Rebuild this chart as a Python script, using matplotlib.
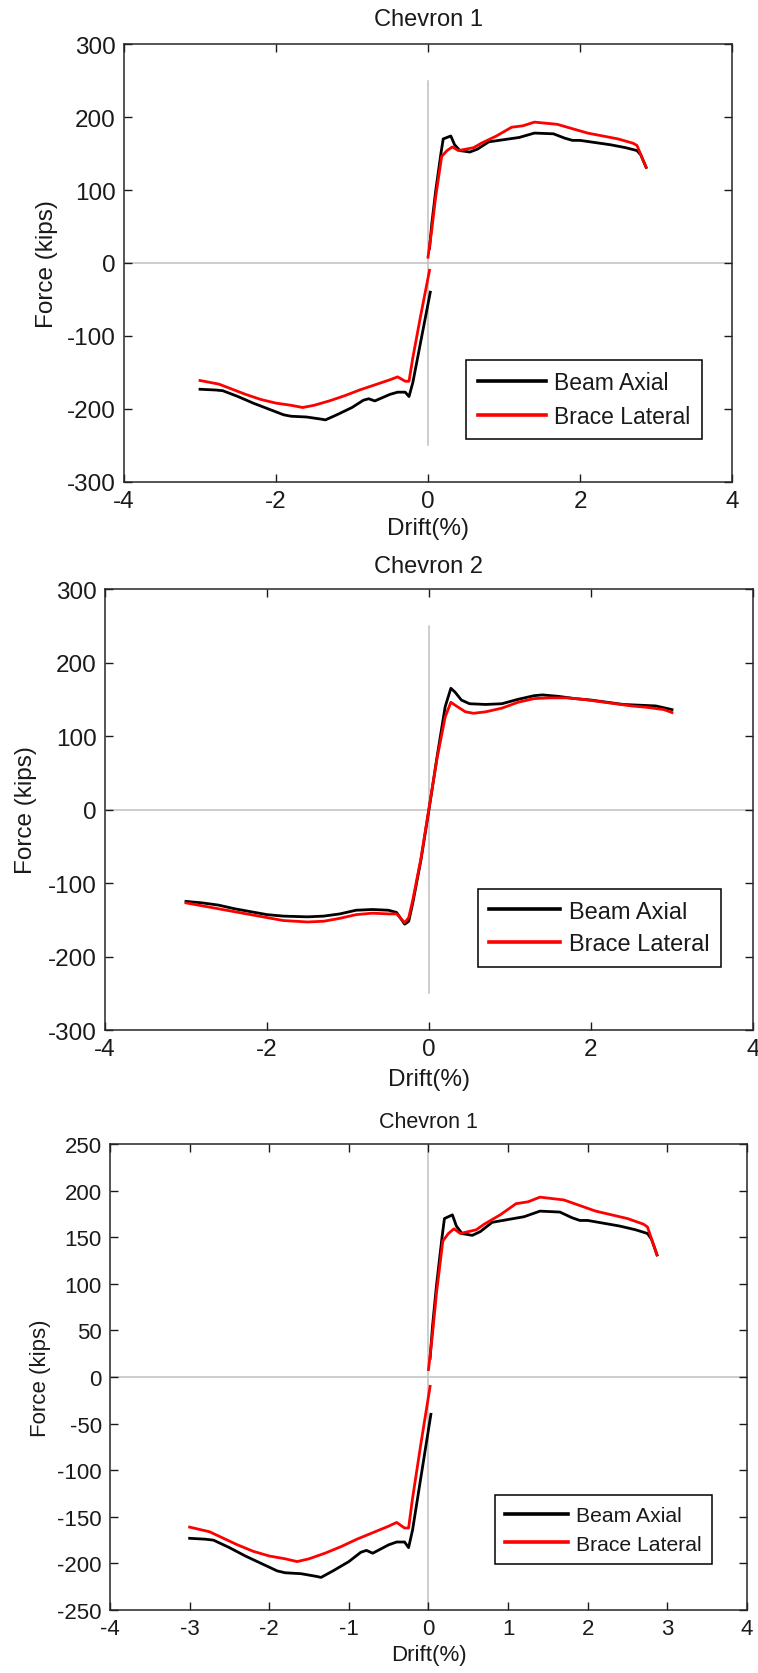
import numpy as np
import matplotlib
matplotlib.use("Agg")
import matplotlib.pyplot as plt

plt.rcParams['font.family'] = ['Liberation Sans', 'DejaVu Sans']
plt.rcParams['axes.unicode_minus'] = False

nan = np.nan

# Chevron 1: drift (%) and forces (kips); NaN marks the break in each record
c1_beam_drift = [-3.0, -2.8, -2.7, -2.5, -2.3, -2.1, -1.9, -1.8, -1.6, -1.4, -1.35, -1.2,
                 -1.0, -0.85, -0.78, -0.7, -0.5, -0.4, -0.3, -0.25, -0.2, -0.1, 0.03,
                 nan,
                 0.02, 0.05, 0.1, 0.17, 0.2, 0.3, 0.35, 0.42, 0.55, 0.65, 0.8, 1.0, 1.2,
                 1.4, 1.65, 1.8, 1.9, 2.0, 2.2, 2.4, 2.6, 2.75, 2.8, 2.87]
c1_beam_force = [-173, -174, -175, -183, -192, -200, -208, -210, -211, -214, -215, -208,
                 -198, -188, -186, -189, -180, -177, -177, -183, -164, -110, -40,
                 nan,
                 20, 54, 98, 150, 170, 174, 162, 154, 152, 156, 166, 169, 172,
                 178, 177, 171, 168, 168, 165, 162, 158, 154, 148, 131]

c1_brace_drift = [-3.0, -2.9, -2.75, -2.6, -2.4, -2.2, -2.0, -1.8, -1.65, -1.5, -1.3, -1.1,
                  -0.9, -0.7, -0.5, -0.4, -0.3, -0.25, -0.2, -0.1, 0.02,
                  nan,
                  0.0, 0.05, 0.1, 0.18, 0.25, 0.32, 0.4, 0.5, 0.6, 0.7, 0.9, 1.1, 1.25,
                  1.4, 1.5, 1.7, 1.9, 2.1, 2.3, 2.5, 2.7, 2.75, 2.87]
c1_brace_force = [-161, -163, -166, -172, -180, -187, -192, -195, -198, -195, -189, -182,
                  -174, -167, -160, -156, -162, -162, -130, -74, -10,
                  nan,
                  8, 46, 90, 146, 154, 159, 154, 156, 158, 164, 174, 186, 188,
                  193, 192, 190, 184, 178, 174, 170, 164, 161, 131]

# Chevron 2
c2_beam_drift = [-3.0, -2.8, -2.6, -2.4, -2.2, -2.0, -1.8, -1.5, -1.3, -1.1, -0.9, -0.7,
                 -0.5, -0.4, -0.3, -0.25, -0.2, -0.1, 0.0, 0.1, 0.2, 0.27, 0.32, 0.4,
                 0.5, 0.7, 0.9, 1.1, 1.3, 1.4, 1.6, 1.8, 2.0, 2.2, 2.4, 2.6, 2.8, 3.0]
c2_beam_force = [-125, -127, -130, -135, -139, -143, -145, -146, -145, -142, -137, -136,
                 -137, -140, -156, -152, -127, -69, 0, 72, 140, 165, 160, 149,
                 144, 143, 144, 150, 155, 156, 154, 151, 149, 146, 143, 142, 141, 136]

c2_brace_drift = [-3.0, -2.8, -2.6, -2.4, -2.2, -2.0, -1.8, -1.5, -1.3, -1.1, -0.9, -0.7,
                  -0.5, -0.4, -0.3, -0.25, -0.2, -0.1, 0.0, 0.1, 0.2, 0.27, 0.35, 0.45,
                  0.55, 0.7, 0.9, 1.1, 1.3, 1.5, 1.7, 1.9, 2.1, 2.3, 2.5, 2.7, 2.9, 3.0]
c2_brace_force = [-127, -131, -135, -139, -143, -147, -151, -153, -152, -148, -143, -141,
                  -142, -142, -154, -147, -123, -67, 2, 70, 126, 146, 140, 133,
                  131, 133, 138, 146, 151, 152, 152, 150, 147, 144, 141, 139, 136, 132]

series_labels = ['Beam Axial', 'Brace Lateral']
xlabel_text = 'Drift(%)'
ylabel_text = 'Force (kips)'

fig = plt.figure(figsize=(7.58, 16.74), dpi=100)

panels = [
    dict(title='Chevron 1', rect=[0.1636, 0.7115, 0.8021, 0.2616],
         data=(c1_beam_drift, c1_beam_force, c1_brace_drift, c1_brace_force),
         ylim=(-300, 300), yticks=np.arange(-300, 301, 100),
         xticks=np.arange(-4, 5, 2), vline=(-250, 250),
         fs=17.5, tfs=17, lfs=16.5, leg=(0.9507, 0.098),
         ylab=-0.109, xlab=-0.080, tpad=14),
    dict(title='Chevron 2', rect=[0.1385, 0.3841, 0.8549, 0.2634],
         data=(c2_beam_drift, c2_beam_force, c2_brace_drift, c2_brace_force),
         ylim=(-300, 300), yticks=np.arange(-300, 301, 100),
         xticks=np.arange(-4, 5, 2), vline=(-250, 250),
         fs=17.5, tfs=17, lfs=17, leg=(0.9506, 0.143),
         ylab=-0.105, xlab=-0.086, tpad=12),
    dict(title='Chevron 1', rect=[0.1451, 0.0376, 0.8404, 0.2784],
         data=(c1_beam_drift, c1_beam_force, c1_brace_drift, c1_brace_force),
         ylim=(-250, 250), yticks=np.arange(-250, 251, 50),
         xticks=np.arange(-4, 5, 1), vline=(-250, 250),
         fs=16, tfs=15.5, lfs=15.2, leg=(0.945, 0.0987),
         ylab=-0.093, xlab=-0.073, tpad=12),
]

text_color = '#1a1a1a'
for p in panels:
    ax = fig.add_axes(p['rect'])
    bx, by, rx, ry = p['data']
    ax.plot([-4, 4], [0, 0], color='#c0c0c0', lw=1.1, zorder=1)
    ax.plot([0, 0], list(p['vline']), color='#c0c0c0', lw=1.1, zorder=1)
    ax.plot(bx, by, color='black', lw=2.0, label=series_labels[0], zorder=2)
    ax.plot(rx, ry, color='#ff0000', lw=2.0, label=series_labels[1], zorder=3)
    ax.set_xlim(-4, 4)
    ax.set_ylim(*p['ylim'])
    ax.set_xticks(p['xticks'])
    ax.set_yticks(p['yticks'])
    ax.tick_params(direction='in', length=6, width=1.0, top=True, right=True,
                   labelsize=p['fs'], colors=text_color, pad=6)
    for s in ax.spines.values():
        s.set_color('#262626')
        s.set_linewidth(1.1)
    ax.set_title(p['title'], fontsize=p['tfs'], color=text_color, pad=p['tpad'])
    ax.set_xlabel(xlabel_text, fontsize=p['fs'], color=text_color)
    ax.set_ylabel(ylabel_text, fontsize=p['fs'], color=text_color)
    ax.yaxis.set_label_coords(p['ylab'], 0.5)
    ax.xaxis.set_label_coords(0.5, p['xlab'])
    leg = ax.legend(loc='lower right', bbox_to_anchor=p['leg'], borderaxespad=0,
                    fontsize=p['lfs'], fancybox=False, framealpha=1,
                    edgecolor='black', handlelength=3.0, handletextpad=0.35,
                    borderpad=0.5, labelspacing=0.45)
    leg.get_frame().set_linewidth(1.1)
    for line in leg.get_lines():
        line.set_linewidth(2.6)
    for t in leg.get_texts():
        t.set_color(text_color)

fig.savefig('out.png', dpi=100)
